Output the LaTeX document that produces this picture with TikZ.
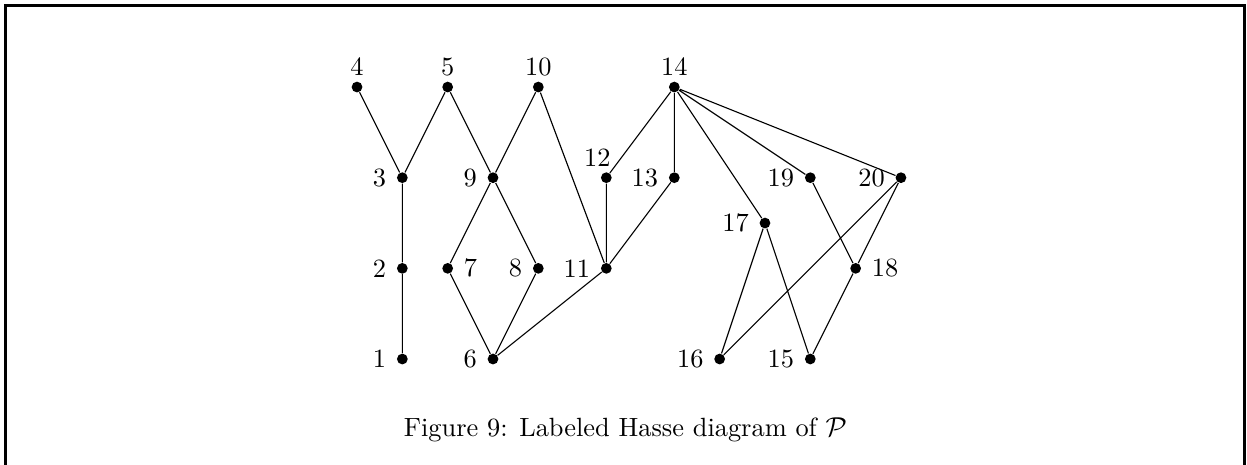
\documentclass[tikz,border=0pt]{standalone}
\begin{document}
\begin{tikzpicture}[x=18.13pt,y=18.13pt,
  pt/.style={circle,fill=black,inner sep=0pt,minimum size=4.3pt},
  edge/.style={line width=0.45pt},
  every node/.append style={font=\fontsize{10.55}{12.7}\selectfont},
  label distance=0.6pt,
  up/.style={label={[label distance=-1.4pt]above:#1}}]
\useasboundingbox (-7.876,-2.316) rectangle (19.634,7.92);
\draw[line width=1.2pt] (-7.754,-3) -- (-7.754,7.798) -- (19.579,7.798) -- (19.579,-3);
\node[pt,up=4] (n4) at (0,6) {};
\node[pt,up=5] (n5) at (2,6) {};
\node[pt,up=10] (n10) at (4,6) {};
\node[pt,up=14] (n14) at (7,6) {};
\node[pt,label=left:3] (n3) at (1,4) {};
\node[pt,label=left:9] (n9) at (3,4) {};
\node[pt,label={[label distance=-1.4pt,xshift=-3.6pt]above:12}] (n12) at (5.5,4) {};
\node[pt,label=left:13] (n13) at (7,4) {};
\node[pt,label=left:19] (n19) at (10,4) {};
\node[pt,label=left:20] (n20) at (12,4) {};
\node[pt,label=left:17] (n17) at (9,3) {};
\node[pt,label=left:2] (n2) at (1,2) {};
\node[pt,label=right:7] (n7) at (2,2) {};
\node[pt,label=left:8] (n8) at (4,2) {};
\node[pt,label=left:11] (n11) at (5.5,2) {};
\node[pt,label=right:18] (n18) at (11,2) {};
\node[pt,label=left:1] (n1) at (1,0) {};
\node[pt,label=left:6] (n6) at (3,0) {};
\node[pt,label=left:16] (n16) at (8,0) {};
\node[pt,label=left:15] (n15) at (10,0) {};
\draw[edge] (n4)--(n3) (n5)--(n3) (n5)--(n9) (n10)--(n9) (n10)--(n11)
  (n14)--(n12) (n14)--(n13) (n14)--(n17) (n14)--(n19) (n14)--(n20)
  (n3)--(n2) (n2)--(n1) (n9)--(n7) (n9)--(n8) (n7)--(n6) (n8)--(n6)
  (n6)--(n11) (n12)--(n11) (n13)--(n11) (n17)--(n16) (n17)--(n15)
  (n19)--(n18) (n20)--(n18) (n20)--(n16) (n18)--(n15);
\node (cap) at (5.92,-1.57) {Figure 9: Labeled Hasse diagram of $\mathcal{P}$};
\end{tikzpicture}
\end{document}
